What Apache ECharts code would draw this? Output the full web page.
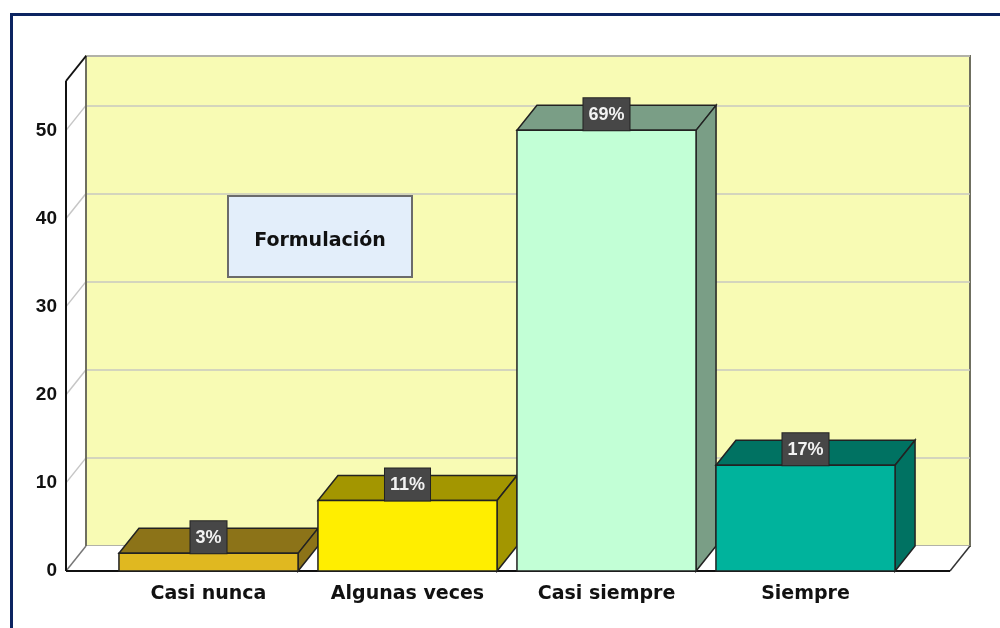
<!DOCTYPE html>
<html>
<head>
<meta charset="utf-8">
<script src="https://cdn.jsdelivr.net/npm/echarts@6/dist/echarts.min.js"></script>
<style>
  html, body { margin: 0; padding: 0; background: #fff; }
  #chart { width: 1000px; height: 628px; }
</style>
</head>
<body>
<div id="chart"></div>
<script>
// datos del gráfico
var categorias = ['Casi nunca', 'Algunas veces', 'Casi siempre', 'Siempre'];
var frecuencias = [2, 8, 50, 12];
var yTicks = [0, 10, 20, 30, 40, 50];
var yMax = 55.6;
var titulo = 'Formulación';

var total = frecuencias.reduce(function (a, b) { return a + b; }, 0);

// colores: cara frontal / techo y lateral
var frente = ['#e0b820', '#ffee00', '#c2ffd6', '#00b39c'];
var sombra = ['#8c7318', '#a39600', '#7a9e86', '#007262'];

var DX = 20, DY = -25; // profundidad 3D

// pared izquierda, suelo y diagonales de las marcas
function marco(params, api) {
  var cs = params.coordSys;
  var x0 = cs.x, x1 = cs.x + cs.width, yt = cs.y, yb = cs.y + cs.height;
  var hijos = [
    { type: 'polygon', shape: { points: [[x0, yt], [x0 + DX, yt + DY], [x0 + DX, yb + DY], [x0, yb]] }, style: { fill: '#fff' } },
    { type: 'polygon', shape: { points: [[x0, yb], [x1, yb], [x1 + DX, yb + DY], [x0 + DX, yb + DY]] }, style: { fill: '#fff' } }
  ];
  yTicks.forEach(function (v) {
    var p = api.coord([0, v]);
    hijos.push({ type: 'line', shape: { x1: x0, y1: p[1], x2: x0 + DX, y2: p[1] + DY },
      style: { stroke: v === 0 ? '#777' : '#c6c6c6', lineWidth: 1.5 } });
  });
  hijos.push({ type: 'line', shape: { x1: x0 + DX, y1: yt + DY, x2: x0 + DX, y2: yb + DY }, style: { stroke: '#6f6f60', lineWidth: 2 } });
  hijos.push({ type: 'line', shape: { x1: x0, y1: yt, x2: x0 + DX, y2: yt + DY }, style: { stroke: '#111', lineWidth: 2 } });
  hijos.push({ type: 'line', shape: { x1: x1, y1: yb, x2: x1 + DX, y2: yb + DY }, style: { stroke: '#333', lineWidth: 1.5 } });
  hijos.push({ type: 'line', shape: { x1: x0, y1: yb, x2: x1, y2: yb }, style: { stroke: '#111', lineWidth: 2 } });
  hijos.push({ type: 'line', shape: { x1: x0, y1: yt, x2: x0, y2: yb }, style: { stroke: '#111', lineWidth: 2 } });
  return { type: 'group', children: hijos };
}

// barras en 3D
function barra(params, api) {
  var i = api.value(0), v = api.value(1);
  var top = api.coord([i, v]), base = api.coord([i, 0]);
  var w = api.size([1, 0])[0] * 0.9;
  var xl = top[0] - w / 2, xr = top[0] + w / 2, yt = top[1], yb = base[1];
  var borde = { stroke: '#222', lineWidth: 1.5 };
  var pct = Math.round(v / total * 100) + '%';
  return {
    type: 'group',
    children: [
      { type: 'polygon', shape: { points: [[xl, yt], [xr, yt], [xr + DX, yt + DY], [xl + DX, yt + DY]] },
        style: Object.assign({ fill: sombra[i] }, borde) },
      { type: 'polygon', shape: { points: [[xr, yt], [xr + DX, yt + DY], [xr + DX, yb + DY], [xr, yb]] },
        style: Object.assign({ fill: sombra[i] }, borde) },
      { type: 'rect', shape: { x: xl, y: yt, width: w, height: yb - yt },
        style: Object.assign({ fill: frente[i] }, borde) },
      { type: 'text', x: top[0], y: yt,
        style: { text: pct, fill: '#f2f2f2', font: 'bold 18px "Liberation Sans", Arial, sans-serif',
          align: 'center', verticalAlign: 'bottom', backgroundColor: '#474747',
          borderColor: '#222', borderWidth: 1, padding: [8, 5, 6, 5] } }
    ]
  };
}

function ejeY(idx, etiquetas) {
  return {
    gridIndex: idx, type: 'value', min: 0, max: yMax, interval: 10,
    axisLine: { show: false },
    axisTick: { show: false },
    axisLabel: {
      show: etiquetas, margin: 9, color: '#111',
      fontFamily: '"Liberation Sans", Arial, sans-serif', fontWeight: 'bold', fontSize: 19,
      formatter: function (v) { return v % 10 === 0 ? v : ''; }
    },
    splitLine: { show: idx === 0, lineStyle: { color: '#c8c8c0', width: 1.5 } }
  };
}

var option = {
  animation: false,
  grid: [
    { left: 86, right: 30, top: 56, bottom: 82, show: true, backgroundColor: '#f8fbb4', borderColor: '#6f6f60', borderWidth: 2 },
    { left: 66, right: 50, top: 81, bottom: 57 },
    { left: 109, right: 95, top: 81, bottom: 57 }
  ],
  xAxis: [
    { gridIndex: 0, type: 'value', min: 0, max: 1, show: false },
    { gridIndex: 1, type: 'value', min: 0, max: 1, show: false },
    {
      gridIndex: 2, type: 'category', data: categorias,
      axisLine: { show: false }, axisTick: { show: false },
      axisLabel: { interval: 0, hideOverlap: false, margin: 14, color: '#111',
        fontFamily: '"DejaVu Sans", sans-serif', fontWeight: 'bold', fontSize: 19 }
    }
  ],
  yAxis: [ejeY(0, false), ejeY(1, true), ejeY(2, false)],
  graphic: [
    { type: 'polyline', shape: { points: [[11.5, 628], [11.5, 14.5], [1000, 14.5]] },
      style: { stroke: '#0c2461', lineWidth: 3, fill: null } },
    { type: 'rect', shape: { x: 228, y: 196, width: 184, height: 81 }, z: 10,
      style: { fill: '#e3eefa', stroke: '#6b6b6b', lineWidth: 2 } },
    { type: 'text', x: 320, y: 241, z: 11,
      style: { text: titulo, fill: '#111', font: 'bold 19px "DejaVu Sans", sans-serif', align: 'center', verticalAlign: 'middle' } }
  ],
  series: [
    { type: 'custom', xAxisIndex: 1, yAxisIndex: 1, renderItem: marco, data: [[0, 0]], silent: true, z: 1 },
    { type: 'custom', xAxisIndex: 2, yAxisIndex: 2, renderItem: barra, z: 3,
      data: categorias.map(function (c, i) { return [i, frecuencias[i]]; }) }
  ]
};

var myChart = echarts.init(document.getElementById('chart'));
myChart.setOption(option);
</script>
</body>
</html>
